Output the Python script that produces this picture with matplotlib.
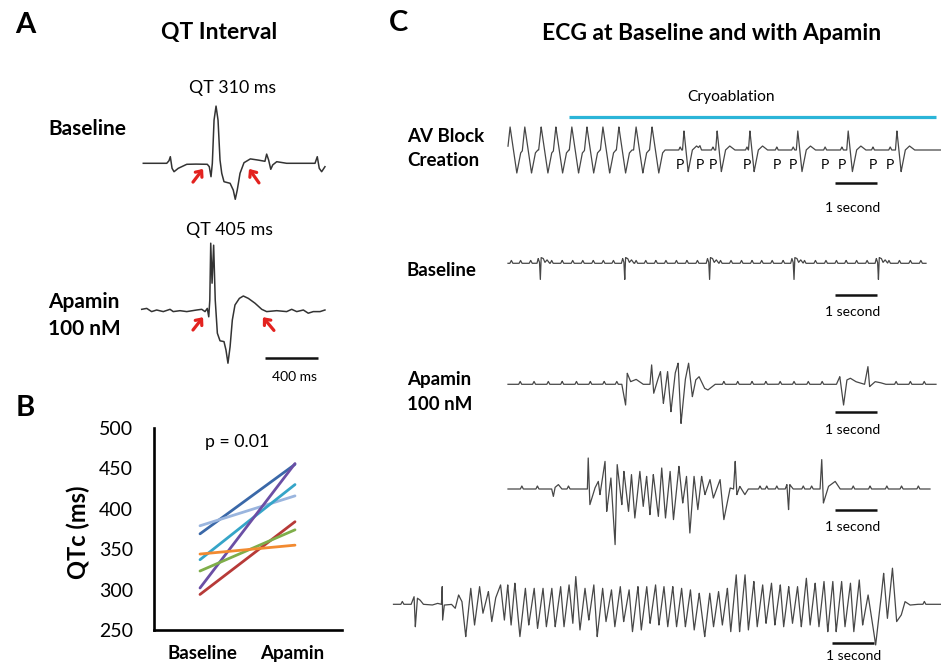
import numpy as np
import matplotlib
matplotlib.use('Agg')
import matplotlib.pyplot as plt

plt.rcParams['font.family'] = ['Lato', 'DejaVu Sans']

W, H = 941, 666

# ---------------- panel B: QTc per animal ----------------
groups = ['Baseline', 'Apamin']
qtc_baseline = [369, 379, 337, 302, 294, 323, 344]
qtc_apamin = [455, 416, 430, 456, 384, 374, 355]
qtc_colors = ['#3a68a8', '#9ab5de', '#35a5c8', '#6b4fa5', '#b73a38', '#7fae4a', '#f28a30']

# ---------------- panel A: single beats (ms, mV) ----------------
qt_base_t = [0, 177, 194, 204, 217, 232, 264, 328, 398, 483, 498, 511, 521, 534, 549,
             564, 579, 592, 609, 655, 679, 694, 709, 730, 760, 808, 868, 918, 931, 946,
             962, 977, 1007, 1082, 1296, 1313, 1328, 1346, 1371]
qt_base_v = [0, 0, 0.065, 0.165, -0.125, -0.21, -0.125, -0.025, -0.02, -0.025, -0.085,
             -0.335, 0, 1.08, 1.43, 1.08, 0.08, -0.25, -0.46, -0.5, -0.67, -0.9, -0.67,
             -0.25, 0.015, 0.11, 0.08, 0.05, 0.23, 0.08, -0.15, -0.04, 0.04, 0, 0, 0.165,
             -0.125, -0.21, -0.085]
qt_apa_t = [0, 38, 75, 113, 163, 214, 238, 289, 340, 415, 453, 478, 495, 506, 514, 521,
            531, 543, 555, 571, 591, 621, 636, 651, 667, 684, 704, 737, 767, 805, 855, 906,
            943, 1019, 1094, 1132, 1170, 1220, 1257, 1295, 1346, 1383]
qt_apa_v = [0.017, 0.04, -0.04, 0, -0.04, 0.017, -0.04, -0.017, -0.04, 0, 0.017, -0.04,
            0.04, -0.17, 0.25, 1.67, 0.67, 1.62, 0.25, -0.58, -0.77, -0.79, -1.0, -1.33,
            -0.92, -0.25, 0.125, 0.29, 0.35, 0.29, 0.17, 0.017, -0.04, -0.017, -0.04,
            0.017, -0.04, 0, -0.08, -0.04, -0.04, 0]
# (tail, head) of the red arrows, Q onset and T end
arrows_base = [((375, -0.47), (451, -0.14)), ((873, -0.49), (798, -0.14))]
arrows_apa = [((387, -0.50), (463, -0.18)), ((998, -0.51), (915, -0.18))]

# ---------------- panel C: rhythm strips (s, mV) ----------------
# beat shapes, time relative to the R peak
fast_shape_t = [-0.06, 0.0, 0.16, 0.25, 0.31]
fast_shape_v = [0, 1.15, -1.15, -0.15, 0]
slow_shape_t = [-0.035, 0.0, 0.10, 0.20, 0.30, 0.42]
slow_shape_v = [0, 0.95, -1.08, 0.0, 0.2, 0]
esc_shape_t = [-0.08, -0.05, -0.02, 0.0, 0.02, 0.07, 0.11, 0.16, 0.22]
esc_shape_v = [0, 0.25, 0.05, -0.85, 0.3, 0.25, 0.05, 0.18, 0]
p_shape_t = [-0.035, 0.0, 0.035]
p_shape_v = [0, 0.15, 0]

# AV block creation
av_fast = [0.05, 0.40, 0.79, 1.14, 1.52, 1.88, 2.26, 2.64, 3.05, 3.43]
av_slow = [4.19, 4.98, 5.76, 6.90, 8.10, 9.26]
av_p = [4.10, 4.57, 4.88, 5.69, 6.40, 6.79, 7.55, 7.95, 8.69, 9.10]

# baseline after AV block
bl_qrs = [0.77, 2.78, 4.80, 6.81, 8.82]
bl_p = [0.08, 0.30, 0.54, 1.04, 1.29, 1.54, 1.78, 2.03, 2.27, 2.51, 3.05, 3.28, 3.52,
        3.76, 4.01, 4.26, 4.51, 5.06, 5.31, 5.56, 5.81, 6.04, 6.29, 6.55, 7.06, 7.32,
        7.57, 7.82, 8.05, 8.30, 8.55, 9.07, 9.32, 9.58, 9.83]

# apamin strip 1
ap1_t = [2.71, 2.80, 2.84, 2.92, 3.05, 3.22,
         3.38, 3.42, 3.47, 3.55, 3.63, 3.70, 3.80, 3.88, 3.98, 4.05, 4.12, 4.22, 4.30,
         4.39, 4.47, 4.55, 4.68, 4.76, 4.93,
         7.82, 7.90, 7.99, 8.07, 8.15, 8.28, 8.49, 8.57, 8.61, 8.74, 8.86, 8.99]
ap1_v = [0, -1.09, 0.58, 0.14, 0.26, 0,
         0, 1.02, -0.47, 0.14, 0.67, -1.0, 0.67, -1.44, 0.58, 1.11, -2.06, 0.23, 1.11,
         -0.65, 0.23, 0.40, -0.21, -0.30, 0,
         0, 0.40, -1.09, 0.23, 0.32, 0.14, 0, 0.93, -0.12, 0.14, 0.09, 0]
ap1_p = [0.29, 0.62, 0.96, 1.29, 1.63, 1.96, 2.29, 2.59, 5.14, 5.47, 5.81, 6.14, 6.48,
         6.81, 7.15, 7.48, 9.24, 9.58, 9.91]

# apamin strip 2
ap2_t = [1.04, 1.08, 1.12, 1.20, 1.28,
         1.79, 1.89, 1.91, 1.95, 2.07, 2.15, 2.19, 2.31, 2.35, 2.45, 2.55, 2.60, 2.71,
         2.76, 2.87, 2.94, 3.02, 3.14, 3.22, 3.30, 3.38, 3.46, 3.58, 3.66, 3.75, 3.86,
         3.94, 4.07, 4.16, 4.25, 4.33, 4.43, 4.52, 4.61, 4.69, 4.81, 4.89, 5.05, 5.14,
         5.29, 5.37, 5.41, 5.45, 5.52, 5.64, 5.72,
         6.60, 6.64, 6.68, 6.71, 6.79,
         7.43, 7.47, 7.51, 7.63, 7.79, 7.91]
ap2_v = [0, -0.37, 0.08, 0.22, 0,
         0, 0, 1.55, -0.78, 0.05, 0.38, -0.28, 1.38, -1.12, 0.55, -2.78, 1.22, -0.78,
         0.88, -1.12, 0.72, -1.45, 0.88, -0.87, 0.63, -1.28, 0.72, -1.37, 1.05, -1.45,
         0.88, -1.53, 1.13, -0.70, 0.63, -2.20, 0.63, -1.03, 0.63, -0.28, 0.47, -0.45,
         0.47, -1.53, 0.05, 0, 1.38, -0.28, 0.13, -0.28, 0,
         0, 0.22, -1.03, 0.22, 0,
         0, 1.47, -0.70, 0.13, 0.38, 0]
ap2_p = [0.33, 0.70, 1.44, 6.00, 6.16, 6.40, 7.03, 7.23, 8.22, 8.62, 9.02, 9.37, 9.77]

# apamin strip 3 (sustained VT)
ap3_t = [0.42, 0.49, 0.52, 0.57, 0.63, 0.71, 0.92, 1.05, 1.14, 1.16, 1.17, 1.21, 1.38,
         1.47, 1.55, 1.63, 1.72,
         1.84, 1.93, 2.05, 2.13, 2.26, 2.34, 2.43, 2.55, 2.64, 2.72, 2.80, 2.89, 3.01,
         3.14, 3.22, 3.35, 3.43, 3.56, 3.64, 3.77, 3.85, 3.98, 4.06, 4.18, 4.27, 4.34,
         4.44, 4.56, 4.65, 4.77, 4.85, 4.98, 5.06, 5.19, 5.27, 5.40, 5.48, 5.61, 5.69,
         5.82, 5.90, 6.03, 6.11, 6.24, 6.32, 6.44, 6.53, 6.65, 6.74, 6.86, 6.95, 7.07,
         7.16, 7.28, 7.41, 7.53, 7.62, 7.74, 7.83, 7.95, 8.03, 8.16, 8.24, 8.37, 8.45,
         8.58, 8.66, 8.79, 8.87, 9.00, 9.08, 9.21, 9.29, 9.41, 9.50, 9.62, 9.71, 9.83,
         9.92, 10.04, 10.13, 10.25, 10.34, 10.46, 10.54, 10.67, 10.75, 10.88, 10.96,
         11.09, 11.17,
         11.30, 11.38, 11.48, 11.59, 11.67, 11.76, 11.88, 11.98, 12.09, 12.18, 12.30, 12.47]
ap3_v = [0, 0.40, -1.18, 0.32, 0.23, 0, -0.04, 0.05, 0, 0.93, -0.83, -0.04, 0, -0.21,
         0.49, 0.14, -1.70,
         0.84, -1.09, 0.93, -0.47, 0.67, -0.91, 0.32, 1.02, -0.83, 1.02, -1.09, 1.11,
         -1.70, 0.84, -1.09, 0.84, -1.27, 0.84, -1.18, 0.84, -1.18, 0.93, -1.18, 1.02,
         -1.00, 1.46, -1.35, 0.84, -0.83, 1.02, -1.70, 0.84, -0.91, 0.76, -1.18, 0.93,
         -0.91, 0.76, -1.44, 0.93, -1.35, 0.93, -1.00, 1.02, -1.09, 0.93, -1.18, 0.93,
         -1.18, 0.84, -1.18, 0.76, -1.35, 0.58, -1.70, 0.58, -1.18, 0.67, -1.09, 0.84,
         -1.44, 1.55, -1.44, 1.55, -1.35, 1.20, -1.18, 1.02, -1.00, 1.11, -1.09, 1.02,
         -1.18, 0.93, -1.00, 0.93, -1.18, 1.37, -1.09, 1.11, -1.18, 1.20, -1.44, 1.20,
         -1.44, 1.20, -1.18, 1.11, -1.44, 1.28, -1.09,
         0.49, -0.65, -2.14, -0.04, 1.63, -0.74, 1.90, -0.91, -0.56, 0.14, -0.04, 0]
ap3_p = [0.21, 12.64]


fig = plt.figure(figsize=(W / 100, H / 100), dpi=100)
fig.patch.set_facecolor('white')

# overlay in pixel units, used only for placing labels
ov = fig.add_axes([0, 0, 1, 1])
ov.set_xlim(0, W)
ov.set_ylim(H, 0)
ov.set_axis_off()


def strip_axes(left, base, right, px_x, px_y, half=50):
    # axes whose data units are (time, mV) with given pixel scales
    ax = fig.add_axes([left / W, 1 - (base + half) / H, (right - left) / W, 2 * half / H])
    ax.set_xlim(0, (right - left) / px_x)
    ax.set_ylim(-half / px_y, half / px_y)
    ax.set_axis_off()
    return ax


def build(t_end, events):
    # events: (time, shape_t, shape_v); shapes are summed on a fine grid
    knots = [np.linspace(0, t_end, 3000)]
    for tc, st, sv in events:
        knots.append(tc + np.asarray(st))
    grid = np.unique(np.concatenate(knots))
    grid = grid[(grid >= 0) & (grid <= t_end)]
    y = np.zeros_like(grid)
    for tc, st, sv in events:
        y += np.interp(grid, tc + np.asarray(st), sv, left=0, right=0)
    return grid, y


trace_col = '#474747'
arrow_red = '#e3221f'

# ---------------- panel A ----------------
ov.text(25, 25, 'A', fontsize=21, fontweight='bold', ha='center', va='center')
ov.text(219, 33, 'QT Interval', fontsize=16.5, fontweight='bold', ha='center', va='center')
ov.text(233, 88, 'QT 310 ms', fontsize=12.8, ha='center', va='center')
ov.text(48, 129, 'Baseline', fontsize=15, fontweight='bold', ha='left', va='center')
ov.text(230, 230, 'QT 405 ms', fontsize=12.8, ha='center', va='center')
ov.text(48, 302, 'Apamin', fontsize=15, fontweight='bold', ha='left', va='center')
ov.text(48, 329, '100 nM', fontsize=15, fontweight='bold', ha='left', va='center')

axa1 = strip_axes(143.3, 163.3, 325, 0.1325, 40, half=70)
axa1.plot(qt_base_t, qt_base_v, color='#333333', lw=1.1, clip_on=False)
for tail, head in arrows_base:
    axa1.annotate('', xy=head, xytext=tail,
                  arrowprops=dict(arrowstyle='->,head_length=0.35,head_width=0.3',
                                  color=arrow_red, lw=2.3, shrinkA=0, shrinkB=0))

axa2 = strip_axes(141.7, 310, 326, 0.1325, 40, half=70)
axa2.plot(qt_apa_t, qt_apa_v, color='#333333', lw=1.1, clip_on=False)
for tail, head in arrows_apa:
    axa2.annotate('', xy=head, xytext=tail,
                  arrowprops=dict(arrowstyle='->,head_length=0.35,head_width=0.3',
                                  color=arrow_red, lw=2.3, shrinkA=0, shrinkB=0))
axa2.plot([931, 1331], [-1.2, -1.2], color='#111111', lw=1.8, solid_capstyle='butt')
ov.text(295, 377, '400 ms', fontsize=10, ha='center', va='center')

# ---------------- panel B ----------------
ov.text(25, 408, 'B', fontsize=21, fontweight='bold', ha='center', va='center')
axb = fig.add_axes([154 / W, 1 - 630 / H, 188 / W, 202 / H])
for b, a, c in zip(qtc_baseline, qtc_apamin, qtc_colors):
    axb.plot([0, 1], [b, a], color=c, lw=2.0, solid_capstyle='round')
axb.set_xlim(-46 / 95, 142 / 95)
axb.set_ylim(250, 500)
axb.set_yticks(np.arange(250, 501, 50))
axb.set_xticks([0.03, 0.97])
axb.set_xticklabels(groups, fontsize=13.5, fontweight='bold')
axb.tick_params(axis='y', length=0, pad=15, labelsize=14)
axb.tick_params(axis='x', length=0, pad=11)
for s in ['top', 'right']:
    axb.spines[s].set_visible(False)
for s in ['left', 'bottom']:
    axb.spines[s].set_linewidth(1.9)
    axb.spines[s].set_color('black')
axb.set_facecolor('none')
ov.text(78, 532, 'QTc (ms)', fontsize=17, fontweight='bold', rotation=90,
        ha='center', va='center')
ov.text(237, 442, 'p = 0.01', fontsize=12.8, ha='center', va='center')

# ---------------- panel C ----------------
ov.text(399, 23, 'C', fontsize=21, fontweight='bold', ha='center', va='center')
ov.text(712, 33, 'ECG at Baseline and with Apamin', fontsize=16.5, fontweight='bold',
        ha='center', va='center')
ov.text(407, 137, 'AV Block', fontsize=13.5, fontweight='bold', ha='left', va='center')
ov.text(407, 160, 'Creation', fontsize=13.5, fontweight='bold', ha='left', va='center')
ov.text(407, 271, 'Baseline', fontsize=13.5, fontweight='bold', ha='left', va='center')
ov.text(407, 379, 'Apamin', fontsize=13.5, fontweight='bold', ha='left', va='center')
ov.text(407, 405, '100 nM', fontsize=13.5, fontweight='bold', ha='left', va='center')

PX_S = 42.0

# AV block strip
ax1 = strip_axes(508, 150, W, PX_S, 20)
t_end = (W - 508) / PX_S
ev = [(t, fast_shape_t, fast_shape_v) for t in av_fast]
ev += [(t, slow_shape_t, slow_shape_v) for t in av_slow]
ev += [(t, p_shape_t, p_shape_v) for t in av_p]
x, y = build(t_end, ev)
ax1.plot(x, y, color=trace_col, lw=0.9, clip_on=False)
for t in av_p:
    ax1.text(t, -0.75, 'P', fontsize=10, ha='center', va='center')
ax1.plot([(569 - 508) / PX_S, (936 - 508) / PX_S], [1.67, 1.67], color='#2bb5d8',
         lw=2.3, solid_capstyle='butt', clip_on=False)
ov.text(731, 97, 'Cryoablation', fontsize=11.2, ha='center', va='center')
ax1.plot([7.79, 8.79], [-1.63, -1.63], color='#111111', lw=1.8, solid_capstyle='butt')
ov.text(853, 208, '1 second', fontsize=10, ha='center', va='center')

# baseline strip
ax2 = strip_axes(508, 263.3, W, PX_S, 19)
ev = [(t, esc_shape_t, esc_shape_v) for t in bl_qrs]
ev += [(t, p_shape_t, p_shape_v) for t in bl_p]
x, y = build((926 - 508) / PX_S, ev)
ax2.plot(x, y, color=trace_col, lw=0.9, clip_on=False)
ax2.plot([7.79, 8.79], [-1.67, -1.67], color='#111111', lw=1.8, solid_capstyle='butt')
ov.text(853, 312, '1 second', fontsize=10, ha='center', va='center')

# apamin strip 1
ax3 = strip_axes(508, 384.3, W, PX_S, 19)
ev = [(0, ap1_t, ap1_v)] + [(t, p_shape_t, p_shape_v) for t in ap1_p]
x, y = build((936 - 508) / PX_S, ev)
ax3.plot(x, y, color=trace_col, lw=0.9, clip_on=False)
ax3.plot([7.79, 8.79], [-1.44, -1.44], color='#111111', lw=1.8, solid_capstyle='butt')
ov.text(853, 430, '1 second', fontsize=10, ha='center', va='center')

# apamin strip 2
ax4 = strip_axes(508, 489, W, PX_S, 20)
ev = [(0, ap2_t, ap2_v)] + [(t, p_shape_t, p_shape_v) for t in ap2_p]
x, y = build((930 - 508) / PX_S, ev)
ax4.plot(x, y, color=trace_col, lw=0.9, clip_on=False)
ax4.plot([7.79, 8.79], [-1.05, -1.05], color='#111111', lw=1.8, solid_capstyle='butt')
ov.text(853, 527, '1 second', fontsize=10, ha='center', va='center')

# apamin strip 3
ax5 = strip_axes(393.5, 604.3, W, PX_S, 19)
ev = [(0, ap3_t, ap3_v)] + [(t, p_shape_t, p_shape_v) for t in ap3_p]
x, y = build((W - 393.5) / PX_S, ev)
ax5.plot(x, y, color=trace_col, lw=0.9, clip_on=False)
ax5.plot([10.44, 11.44], [-2.05, -2.05], color='#111111', lw=1.8, solid_capstyle='butt')
ov.text(854, 656, '1 second', fontsize=10, ha='center', va='center')

fig.savefig('out.png', dpi=100, facecolor='white')
